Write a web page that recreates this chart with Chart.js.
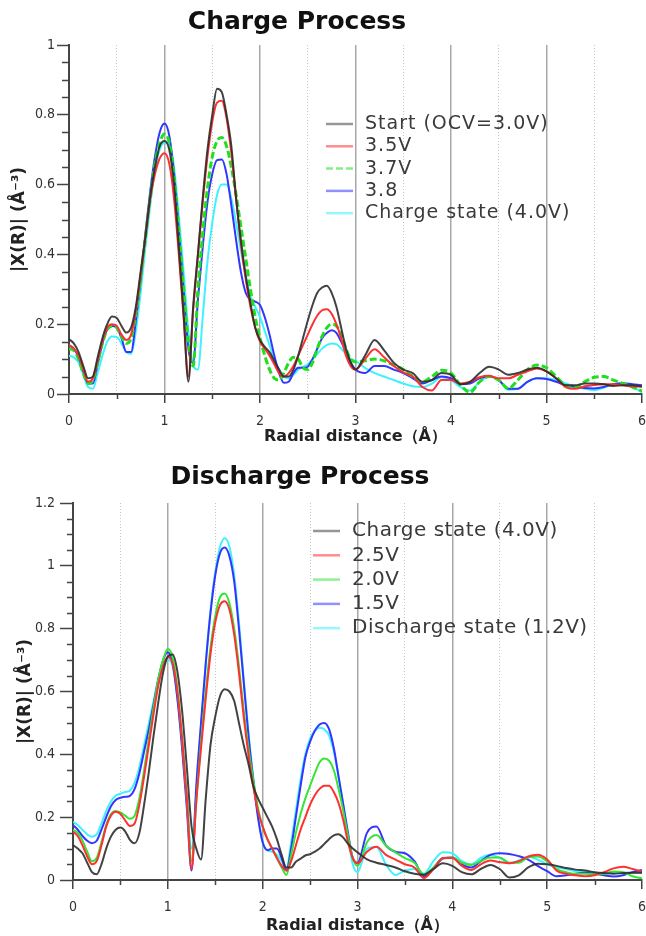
<!DOCTYPE html>
<html>
<head>
  <title>Charge / Discharge Process</title>
  <script src="https://cdn.jsdelivr.net/npm/chart.js"></script>
  <style>
    body { margin: 0; background: #fff; }
    #wrap { position: relative; width: 646px; height: 936px; }
    .box { position: absolute; left: 0; width: 646px; }
    #box1 { top: 0; height: 455px; }
    #box2 { top: 455px; height: 481px; }
    .title {
      position: absolute; left: 0; z-index: 2; text-align: center;
      font: bold 25px "DejaVu Sans", sans-serif; line-height: 30px; color: #111;
    }
    #t1 { top: 6px; width: 594px; }
    #t2 { top: 461px; width: 600px; }
  </style>
</head>
<body>
<div id="wrap">
  <div class="box" id="box1"><canvas id="chargeChart"></canvas></div>
  <div class="box" id="box2"><canvas id="dischargeChart"></canvas></div>
  <div class="title" id="t1">Charge Process</div>
  <div class="title" id="t2">Discharge Process</div>
</div>
<script>
// radial distance grid (Å): 0.05 steps up to 3, then 0.1 steps
var radialDistance = [
  0,0.05,0.1,0.15,0.2,0.25,0.3,0.35,0.4,0.45,
  0.5,0.55,0.6,0.65,0.7,0.75,0.8,0.85,0.9,0.95,
  1,1.05,1.1,1.15,1.2,1.25,1.3,1.35,1.4,1.45,
  1.5,1.55,1.6,1.65,1.7,1.75,1.8,1.85,1.9,1.95,
  2,2.05,2.1,2.15,2.2,2.25,2.3,2.35,2.4,2.45,
  2.5,2.55,2.6,2.65,2.7,2.75,2.8,2.85,2.9,2.95,
  3,
  3.1,3.2,3.3,3.4,3.5,3.6,3.7,3.8,3.9,4,
  4.1,4.2,4.3,4.4,4.5,4.6,4.7,4.8,4.9,5,
  5.1,5.2,5.3,5.4,5.5,5.6,5.7,5.8,5.9,6
];

// ---- charge process ----
var chargeLabels = ['Start (OCV=3.0V)', '3.5V', '3.7V', '3.8', 'Charge state (4.0V)'];

var chargeStart = [
  0.157,0.145,0.12,0.08,0.045,0.05,0.105,0.16,0.2,0.222,
  0.218,0.195,0.176,0.19,0.25,0.35,0.45,0.565,0.65,0.71,
  0.725,0.70,0.60,0.42,0.23,0.035,0.25,0.40,0.56,0.70,
  0.80,0.875,0.865,0.80,0.71,0.56,0.44,0.34,0.26,0.19,
  0.155,0.135,0.12,0.095,0.07,0.05,0.05,0.07,0.11,0.16,
  0.21,0.255,0.29,0.305,0.31,0.29,0.25,0.19,0.13,0.09,
  0.07,
  0.11,0.155,0.125,0.09,0.07,0.06,0.035,0.04,0.06,0.055,
  0.028,0.035,0.06,0.078,0.07,0.055,0.06,0.07,0.075,0.065,
  0.045,0.025,0.025,0.03,0.03,0.028,0.023,0.025,0.025,0.022
];
var charge35 = [
  0.14,0.13,0.11,0.07,0.035,0.045,0.095,0.15,0.19,0.2,
  0.195,0.17,0.155,0.17,0.24,0.34,0.45,0.56,0.63,0.675,
  0.69,0.66,0.56,0.40,0.22,0.05,0.24,0.40,0.55,0.68,
  0.78,0.835,0.84,0.79,0.69,0.56,0.43,0.33,0.25,0.19,
  0.15,0.13,0.11,0.085,0.06,0.05,0.06,0.08,0.11,0.14,
  0.17,0.2,0.225,0.24,0.243,0.23,0.2,0.16,0.11,0.08,
  0.07,
  0.1,0.128,0.105,0.08,0.062,0.05,0.02,0.01,0.04,0.04,
  0.03,0.035,0.048,0.052,0.045,0.045,0.055,0.065,0.073,0.065,
  0.045,0.02,0.015,0.022,0.026,0.028,0.028,0.025,0.022,0.021
];
var charge37 = [
  0.13,0.125,0.1,0.06,0.03,0.04,0.09,0.145,0.185,0.195,
  0.19,0.165,0.145,0.16,0.23,0.33,0.45,0.56,0.66,0.72,
  0.745,0.72,0.62,0.47,0.30,0.15,0.08,0.30,0.46,0.59,
  0.68,0.725,0.735,0.71,0.65,0.57,0.48,0.39,0.30,0.22,
  0.16,0.11,0.07,0.045,0.04,0.06,0.09,0.105,0.1,0.075,
  0.07,0.09,0.13,0.165,0.19,0.2,0.195,0.17,0.13,0.1,
  0.092,
  0.095,0.1,0.095,0.083,0.07,0.05,0.035,0.05,0.068,0.06,
  0.025,0.005,0.035,0.05,0.04,0.016,0.04,0.07,0.083,0.075,
  0.05,0.025,0.02,0.035,0.048,0.05,0.04,0.03,0.02,0.008
];
var charge38 = [
  0.14,0.13,0.105,0.065,0.03,0.03,0.085,0.145,0.185,0.195,
  0.19,0.16,0.12,0.12,0.21,0.33,0.46,0.58,0.68,0.75,
  0.775,0.74,0.63,0.47,0.30,0.13,0.09,0.27,0.42,0.55,
  0.63,0.67,0.672,0.63,0.54,0.44,0.35,0.29,0.27,0.265,
  0.255,0.22,0.17,0.11,0.06,0.032,0.035,0.06,0.075,0.075,
  0.078,0.1,0.13,0.16,0.175,0.183,0.175,0.15,0.12,0.09,
  0.07,
  0.06,0.08,0.08,0.07,0.06,0.045,0.03,0.04,0.05,0.045,
  0.028,0.03,0.045,0.05,0.04,0.015,0.015,0.035,0.045,0.043,
  0.035,0.025,0.02,0.017,0.016,0.02,0.028,0.031,0.028,0.025
];
var charge40 = [
  0.11,0.105,0.09,0.055,0.02,0.015,0.06,0.11,0.15,0.165,
  0.163,0.145,0.12,0.115,0.18,0.29,0.42,0.54,0.64,0.70,
  0.72,0.715,0.65,0.51,0.35,0.18,0.08,0.07,0.22,0.38,
  0.49,0.57,0.60,0.60,0.56,0.49,0.41,0.34,0.28,0.25,
  0.22,0.18,0.14,0.10,0.07,0.05,0.045,0.055,0.07,0.078,
  0.085,0.1,0.115,0.13,0.14,0.145,0.143,0.13,0.115,0.1,
  0.095,
  0.075,0.06,0.05,0.04,0.03,0.022,0.02,0.03,0.048,0.04,
  0.02,0.01,0.035,0.05,0.04,0.012,0.015,0.035,0.045,0.045,
  0.04,0.03,0.022,0.015,0.011,0.018,0.028,0.03,0.02,0.005
];

// ---- discharge process ----
var dischargeLabels = ['Charge state (4.0V)', '2.5V', '2.0V', '1.5V', 'Discharge state (1.2V)'];

var discharge40 = [
  0.111,0.1,0.085,0.055,0.025,0.018,0.05,0.1,0.138,0.16,
  0.167,0.155,0.128,0.117,0.15,0.24,0.345,0.46,0.567,0.66,
  0.712,0.718,0.665,0.54,0.36,0.17,0.1,0.065,0.26,0.43,
  0.52,0.585,0.607,0.6,0.57,0.5,0.43,0.37,0.3,0.26,
  0.23,0.2,0.17,0.13,0.08,0.04,0.04,0.058,0.068,0.078,
  0.082,0.09,0.1,0.115,0.13,0.142,0.146,0.135,0.115,0.1,
  0.088,
  0.066,0.055,0.048,0.04,0.028,0.02,0.017,0.035,0.053,0.045,
  0.025,0.018,0.035,0.048,0.035,0.008,0.015,0.04,0.052,0.05,
  0.045,0.038,0.033,0.03,0.025,0.022,0.02,0.022,0.023,0.023
];
var discharge25 = [
  0.154,0.14,0.11,0.075,0.05,0.06,0.11,0.17,0.205,0.217,
  0.21,0.19,0.172,0.18,0.24,0.33,0.43,0.53,0.62,0.68,
  0.71,0.69,0.6,0.45,0.26,0.035,0.25,0.42,0.58,0.72,
  0.82,0.875,0.887,0.86,0.78,0.66,0.52,0.4,0.3,0.22,
  0.17,0.13,0.1,0.07,0.045,0.03,0.06,0.11,0.16,0.2,
  0.24,0.27,0.29,0.3,0.3,0.28,0.245,0.19,0.12,0.07,
  0.053,
  0.09,0.106,0.08,0.065,0.05,0.04,0.006,0.035,0.07,0.07,
  0.045,0.032,0.05,0.062,0.057,0.053,0.06,0.075,0.08,0.065,
  0.03,0.02,0.015,0.012,0.015,0.025,0.037,0.042,0.035,0.027
];
var discharge20 = [
  0.16,0.15,0.125,0.09,0.06,0.07,0.12,0.175,0.21,0.22,
  0.215,0.205,0.195,0.205,0.26,0.35,0.45,0.55,0.64,0.7,
  0.735,0.71,0.61,0.45,0.26,0.06,0.25,0.44,0.6,0.74,
  0.84,0.9,0.912,0.88,0.8,0.68,0.54,0.42,0.32,0.23,
  0.17,0.13,0.1,0.07,0.04,0.016,0.08,0.15,0.21,0.26,
  0.3,0.34,0.375,0.387,0.38,0.35,0.29,0.22,0.14,0.07,
  0.045,
  0.12,0.143,0.11,0.088,0.07,0.055,0.018,0.04,0.07,0.072,
  0.055,0.048,0.06,0.072,0.072,0.055,0.055,0.072,0.075,0.06,
  0.035,0.025,0.02,0.02,0.018,0.02,0.027,0.025,0.012,0.005
];
var discharge15 = [
  0.175,0.16,0.14,0.125,0.117,0.125,0.16,0.2,0.235,0.255,
  0.262,0.265,0.268,0.29,0.34,0.41,0.48,0.56,0.64,0.7,
  0.725,0.69,0.58,0.42,0.23,0.03,0.3,0.5,0.69,0.85,
  0.97,1.04,1.058,1.03,0.95,0.8,0.63,0.46,0.32,0.2,
  0.12,0.095,0.1,0.1,0.07,0.03,0.1,0.2,0.3,0.39,
  0.44,0.475,0.495,0.5,0.48,0.42,0.33,0.24,0.15,0.07,
  0.055,
  0.15,0.17,0.11,0.09,0.085,0.06,0.012,0.035,0.068,0.072,
  0.05,0.04,0.06,0.08,0.085,0.083,0.076,0.065,0.045,0.028,
  0.012,0.015,0.02,0.023,0.02,0.015,0.011,0.015,0.025,0.032
];
var discharge12 = [
  0.185,0.175,0.16,0.145,0.138,0.145,0.18,0.22,0.25,0.268,
  0.275,0.28,0.285,0.31,0.36,0.43,0.5,0.57,0.64,0.69,
  0.7,0.68,0.58,0.44,0.26,0.1,0.28,0.49,0.69,0.86,
  0.98,1.06,1.088,1.06,0.97,0.82,0.64,0.47,0.33,0.21,
  0.12,0.095,0.09,0.08,0.06,0.035,0.12,0.22,0.32,0.4,
  0.45,0.475,0.485,0.48,0.46,0.41,0.33,0.24,0.14,0.05,
  0.025,
  0.1,0.105,0.05,0.016,0.03,0.035,0.02,0.06,0.088,0.085,
  0.06,0.05,0.07,0.08,0.07,0.053,0.062,0.074,0.065,0.05,
  0.04,0.035,0.028,0.025,0.023,0.022,0.022,0.023,0.023,0.023
];

var xTitle = 'Radial distance（Å）';
var yTitle = '|X(R)| (Å⁻³)';

function isMajor(v, step) {
  var r = v / step;
  return Math.abs(r - Math.round(r)) < 1e-6;
}

// legend drawn inside the plot area, like the original figure
var insideLegend = {
  id: 'insideLegend',
  afterDraw: function(chart, args, opts) {
    var ctx = chart.ctx;
    ctx.save();
    ctx.font = opts.font;
    ctx.letterSpacing = opts.letterSpacing;
    ctx.textBaseline = 'middle';
    chart.data.datasets.forEach(function(ds, i) {
      var y = opts.y + i * opts.rowHeight;
      ctx.globalAlpha = 0.55;
      ctx.strokeStyle = ds.borderColor;
      ctx.lineWidth = 2.5;
      ctx.setLineDash(ds.borderDash || []);
      ctx.beginPath();
      ctx.moveTo(opts.x, y);
      ctx.lineTo(opts.x + opts.lineLength, y);
      ctx.stroke();
      ctx.globalAlpha = 1;
      ctx.setLineDash([]);
      ctx.fillStyle = opts.color;
      ctx.fillText(ds.label, opts.x + opts.textGap, y);
    });
    ctx.restore();
  }
};

// shorter minor tick marks (major ones come from the scale itself)
var minorTicks = {
  id: 'minorTicks',
  afterDraw: function(chart, args, opts) {
    var ctx = chart.ctx, x = chart.scales.x, y = chart.scales.y;
    ctx.save();
    ctx.strokeStyle = opts.color;
    ctx.lineWidth = 1.5;
    ctx.beginPath();
    y.ticks.forEach(function(t) {
      if (isMajor(t.value, 0.2)) return;
      var py = Math.round(y.getPixelForValue(t.value)) + 0.5;
      ctx.moveTo(y.right - opts.yLength, py);
      ctx.lineTo(y.right, py);
    });
    x.ticks.forEach(function(t) {
      if (isMajor(t.value, 1)) return;
      var px = Math.round(x.getPixelForValue(t.value)) + 0.5;
      ctx.moveTo(px, x.top);
      ctx.lineTo(px, x.top + opts.xLength);
    });
    ctx.stroke();
    ctx.restore();
  }
};

var tickFont = { family: "'Liberation Sans Narrow', 'DejaVu Sans Condensed', sans-serif", size: 14 };
var titleFont = { family: "'DejaVu Sans', sans-serif", size: 16, weight: 'bold' };

function makeChart(canvasId, labels, values, colors, dashes, widths, look) {
  var datasets = labels.map(function(label, i) {
    return {
      label: label,
      data: radialDistance.map(function(r, j) { return { x: r, y: values[i][j] }; }),
      borderColor: colors[i],
      borderWidth: widths[i],
      borderDash: dashes[i],
      pointRadius: 0,
      cubicInterpolationMode: 'monotone',
      fill: false
    };
  });

  return new Chart(document.getElementById(canvasId), {
    type: 'line',
    data: { datasets: datasets },
    plugins: [insideLegend, minorTicks],
    options: {
      responsive: true,
      maintainAspectRatio: false,
      animation: false,
      layout: { padding: { left: 0, right: 4, top: look.top, bottom: 0 } },
      plugins: {
        legend: { display: false },
        tooltip: { enabled: false },
        insideLegend: look.legend,
        minorTicks: { color: '#444', yLength: look.yMinor, xLength: 5 }
      },
      scales: {
        x: {
          type: 'linear',
          min: 0,
          max: 6,
          afterFit: function(scale) {
            scale.height = look.xHeight;
            scale.paddingLeft = 0;
            scale.paddingRight = 0;
          },
          ticks: {
            stepSize: 0.5,
            autoSkip: false,
            maxRotation: 0,
            padding: 10,
            font: tickFont,
            color: '#333',
            callback: function(v) { return isMajor(v, 1) ? String(Math.round(v)) : ''; }
          },
          grid: {
            drawOnChartArea: true,
            tickLength: 9,
            tickWidth: 1.5,
            tickColor: function(c) { return c.tick && isMajor(c.tick.value, 1) ? '#444' : 'rgba(0,0,0,0)'; },
            color: function(c) {
              if (!c.tick || c.tick.value === 0 || c.tick.value === 6) return 'rgba(0,0,0,0)';
              return isMajor(c.tick.value, 1) ? '#a8a8a8' : '#c4c4c4';
            },
            lineWidth: function(c) { return c.tick && isMajor(c.tick.value, 1) ? 1.5 : 1; }
          },
          border: {
            color: '#444',
            width: 2,
            dash: function(c) { return c.tick && !isMajor(c.tick.value, 1) ? [1, 2] : []; }
          },
          title: { display: true, text: xTitle, font: titleFont, color: '#222', padding: { top: 0, bottom: look.xTitlePad } }
        },
        y: {
          min: 0,
          max: look.yMax,
          afterFit: function(scale) { scale.width = look.yWidth; },
          ticks: {
            stepSize: 0.05,
            autoSkip: false,
            padding: look.yPad,
            font: tickFont,
            color: '#333',
            callback: function(v) { return isMajor(v, 0.2) ? String(+v.toFixed(1)) : ''; }
          },
          grid: {
            drawOnChartArea: false,
            tickLength: look.yMajor,
            tickWidth: 1.5,
            tickColor: function(c) { return c.tick && isMajor(c.tick.value, 0.2) ? '#444' : 'rgba(0,0,0,0)'; }
          },
          border: { color: '#444', width: 2 },
          title: {
            display: true, text: yTitle,
            font: { family: "'DejaVu Sans', sans-serif", size: 17, weight: 'bold' },
            color: '#222', padding: { top: look.yTitlePad, bottom: 0 }
          }
        }
      }
    }
  });
}

makeChart('chargeChart', chargeLabels,
  [chargeStart, charge35, charge37, charge38, charge40],
  ['rgba(45,45,45,0.9)', '#ff3030', '#1ee01e', '#3434ff', '#3ef2ff'],
  [[], [], [7, 3], [], []],
  [2, 2, 3, 2, 2],
  {
    top: 45, xHeight: 61, yWidth: 69, yMax: 1, yPad: 2, yMajor: 12, yMinor: 7,
    xTitlePad: 9, yTitlePad: 9,
    legend: { x: 326, y: 124, rowHeight: 22.3, lineLength: 27, textGap: 39,
              font: "19px 'DejaVu Sans', sans-serif", letterSpacing: '1px', color: '#3a3a3a' }
  });

makeChart('dischargeChart', dischargeLabels,
  [discharge40, discharge25, discharge20, discharge15, discharge12],
  ['rgba(45,45,45,0.9)', '#ff3030', '#33e633', '#3434ff', '#3ef2ff'],
  [[], [], [], [], []],
  [2, 2, 2, 2, 2],
  {
    top: 48, xHeight: 56, yWidth: 73, yMax: 1.2, yPad: 5, yMajor: 13, yMinor: 6,
    xTitlePad: 1, yTitlePad: 15,
    legend: { x: 313, y: 76, rowHeight: 24.3, lineLength: 27, textGap: 39,
              font: "20px 'DejaVu Sans', sans-serif", letterSpacing: '0.5px', color: '#3a3a3a' }
  });
</script>
</body>
</html>
